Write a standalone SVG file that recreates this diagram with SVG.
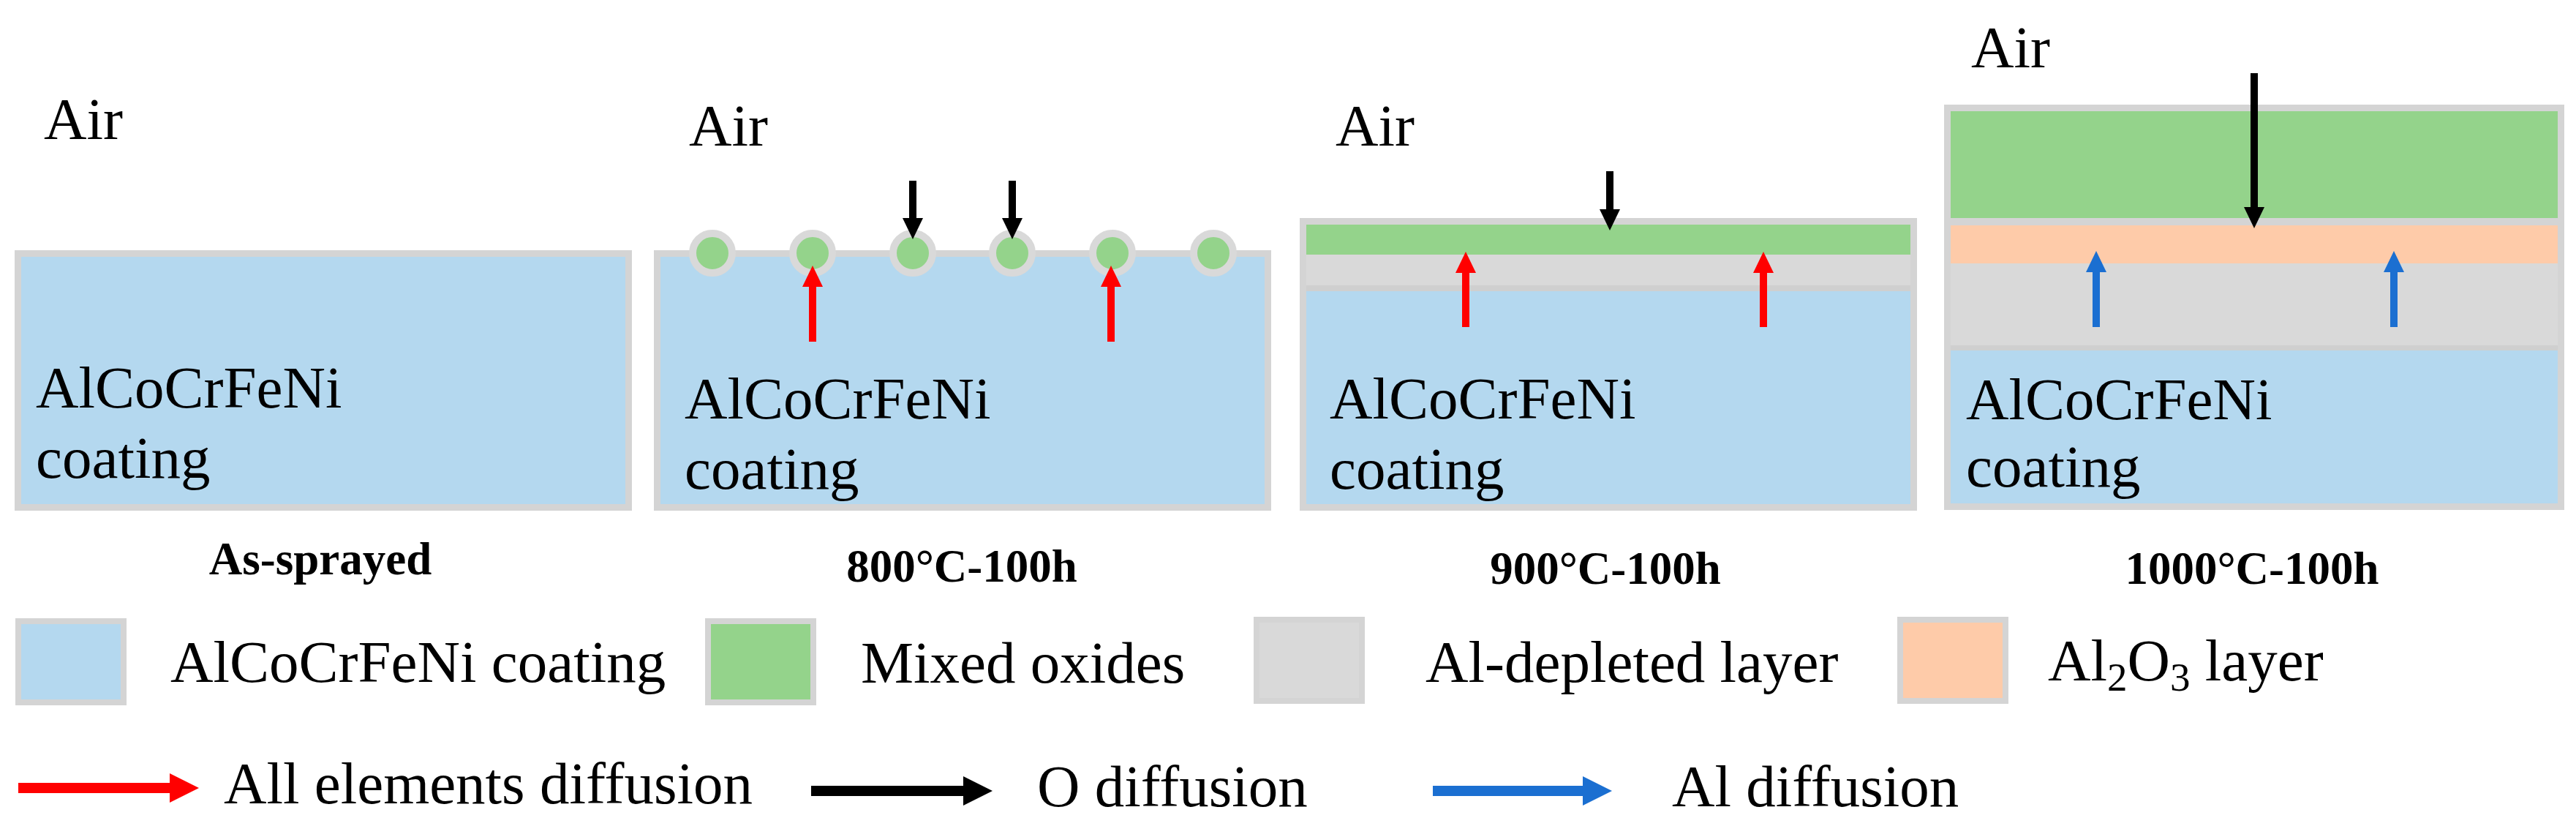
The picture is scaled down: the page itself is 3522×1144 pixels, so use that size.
<svg xmlns="http://www.w3.org/2000/svg" width="3522" height="1144" viewBox="0 0 3522 1144">
<style>
.t{font-family:"Liberation Serif","Times New Roman",serif;fill:#000}
.lab{font-size:81px}
.cap{font-size:63px;font-weight:bold;text-anchor:middle}
.panel{fill:#b4d8ef;stroke:#d4d4d4;stroke-width:9}
.leg{stroke:#d4d4d4;stroke-width:8}
.blue{fill:#b4d8ef}.green{fill:#94d38b}.gray{fill:#d9d9d9}.orange{fill:#fecba9}.sep{fill:#cfcfcf}
.dot{fill:#94d38b;stroke:#d9d9d9;stroke-width:10}
.ar{stroke-width:10;fill:none}
.al{stroke-width:14;fill:none}
.red{stroke:#ff0000}.blk{stroke:#000}.blu{stroke:#1b6fd1}
</style>
<defs>
<marker id="hr" markerUnits="userSpaceOnUse" markerWidth="29" markerHeight="28" refX="14" refY="14" orient="auto"><path d="M0,0 L29,14 L0,28 z" fill="#ff0000"/></marker>
<marker id="hk" markerUnits="userSpaceOnUse" markerWidth="29" markerHeight="28" refX="14" refY="14" orient="auto"><path d="M0,0 L29,14 L0,28 z" fill="#000"/></marker>
<marker id="hb" markerUnits="userSpaceOnUse" markerWidth="29" markerHeight="28" refX="14" refY="14" orient="auto"><path d="M0,0 L29,14 L0,28 z" fill="#1b6fd1"/></marker>
<marker id="Lr" markerUnits="userSpaceOnUse" markerWidth="40" markerHeight="40" refX="20" refY="20" orient="auto"><path d="M0,0 L40,20 L0,40 z" fill="#ff0000"/></marker>
<marker id="Lk" markerUnits="userSpaceOnUse" markerWidth="40" markerHeight="40" refX="20" refY="20" orient="auto"><path d="M0,0 L40,20 L0,40 z" fill="#000"/></marker>
<marker id="Lb" markerUnits="userSpaceOnUse" markerWidth="40" markerHeight="40" refX="20" refY="20" orient="auto"><path d="M0,0 L40,20 L0,40 z" fill="#1b6fd1"/></marker>
</defs>
<rect width="3522" height="1144" fill="#fff"/>

<g id="panel-as-sprayed">
<text class="t lab" x="60" y="190">Air</text>
<rect class="panel" x="24.5" y="346.5" width="835" height="347"/>
<text class="t lab" x="49" y="557">AlCoCrFeNi</text>
<text class="t lab" x="49" y="653">coating</text>
<text class="t cap" x="438" y="785">As-sprayed</text>
</g>

<g id="panel-800">
<text class="t lab" x="942" y="199">Air</text>
<rect class="panel" x="898.5" y="346.5" width="835" height="347"/>
<circle class="dot" cx="974" cy="346" r="27"/>
<circle class="dot" cx="1111" cy="346" r="27"/>
<circle class="dot" cx="1248" cy="346" r="27"/>
<circle class="dot" cx="1384" cy="346" r="27"/>
<circle class="dot" cx="1521" cy="346" r="27"/>
<circle class="dot" cx="1659" cy="346" r="27"/>
<text class="t lab" x="936" y="572">AlCoCrFeNi</text>
<text class="t lab" x="936" y="668">coating</text>
<text class="t cap" x="1315" y="795">800°C-100h</text>
</g>

<g id="panel-900">
<text class="t lab" x="1826" y="199">Air</text>
<rect class="panel" x="1781.5" y="302.5" width="835" height="391"/>
<rect class="green" x="1786" y="307" width="826" height="41"/>
<rect class="gray" x="1786" y="348" width="826" height="42"/>
<rect class="sep" x="1786" y="390" width="826" height="8"/>
<text class="t lab" x="1818" y="572">AlCoCrFeNi</text>
<text class="t lab" x="1818" y="668">coating</text>
<text class="t cap" x="2195" y="798">900°C-100h</text>
</g>

<g id="panel-1000">
<text class="t lab" x="2695" y="92">Air</text>
<rect class="panel" x="2662.5" y="147.5" width="839" height="545"/>
<rect class="green" x="2667" y="152" width="830" height="146"/>
<rect fill="#d4d4d4" x="2667" y="298" width="830" height="10"/>
<rect class="orange" x="2667" y="308" width="830" height="52"/>
<rect class="gray" x="2667" y="360" width="830" height="112"/>
<rect class="sep" x="2667" y="472" width="830" height="7"/>
<text class="t lab" x="2688" y="573">AlCoCrFeNi</text>
<text class="t lab" x="2688" y="665">coating</text>
<text class="t cap" x="3079" y="798">1000°C-100h</text>
</g>

<g id="connectors">
<line class="ar blk" x1="1248" y1="247" x2="1248" y2="312" marker-end="url(#hk)"/>
<line class="ar blk" x1="1384" y1="247" x2="1384" y2="312" marker-end="url(#hk)"/>
<line class="ar red" x1="1111" y1="467" x2="1111" y2="378" marker-end="url(#hr)"/>
<line class="ar red" x1="1519" y1="467" x2="1519" y2="378" marker-end="url(#hr)"/>
<line class="ar blk" x1="2201" y1="234" x2="2201" y2="300" marker-end="url(#hk)"/>
<line class="ar red" x1="2004" y1="447" x2="2004" y2="359" marker-end="url(#hr)"/>
<line class="ar red" x1="2411" y1="447" x2="2411" y2="359" marker-end="url(#hr)"/>
<line class="ar blk" x1="3082" y1="100" x2="3082" y2="297" marker-end="url(#hk)"/>
<line class="ar blu" x1="2866" y1="447" x2="2866" y2="358" marker-end="url(#hb)"/>
<line class="ar blu" x1="3273" y1="447" x2="3273" y2="358" marker-end="url(#hb)"/>
</g>

<g id="legend-coating">
<rect class="leg blue" x="25" y="849" width="144" height="111"/>
<text class="t lab" x="233" y="932">AlCoCrFeNi coating</text>
</g>
<g id="legend-oxides">
<rect class="leg green" x="968" y="849" width="144" height="111"/>
<text class="t lab" x="1177" y="933">Mixed oxides</text>
</g>
<g id="legend-depleted">
<rect class="leg gray" x="1718" y="847" width="144" height="111"/>
<text class="t lab" x="1949" y="932">Al-depleted layer</text>
</g>
<g id="legend-al2o3">
<rect class="leg orange" x="2598" y="847" width="144" height="111"/>
<text class="t lab" x="2800" y="930">Al<tspan font-size="55" dy="14">2</tspan><tspan dy="-14">O</tspan><tspan font-size="55" dy="14">3</tspan><tspan dy="-14"> layer</tspan></text>
</g>
<g id="legend-all">
<line class="al red" x1="25" y1="1077" x2="252" y2="1077" marker-end="url(#Lr)"/>
<text class="t lab" x="306" y="1098">All elements diffusion</text>
</g>
<g id="legend-o">
<line class="al blk" x1="1109" y1="1081" x2="1337" y2="1081" marker-end="url(#Lk)"/>
<text class="t lab" x="1418" y="1102">O diffusion</text>
</g>
<g id="legend-al">
<line class="al blu" x1="1959" y1="1081" x2="2184" y2="1081" marker-end="url(#Lb)"/>
<text class="t lab" x="2286" y="1102">Al diffusion</text>
</g>
</svg>
